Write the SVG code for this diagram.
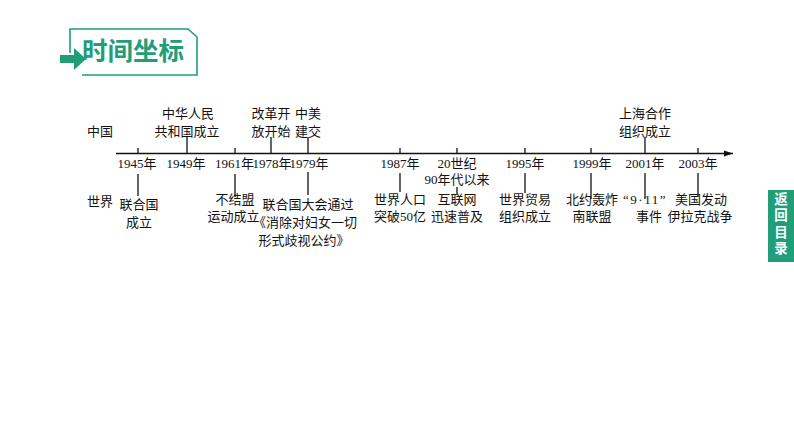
<svg xmlns="http://www.w3.org/2000/svg" width="794" height="447" viewBox="0 0 794 447">
<style>
.t{font-family:"Liberation Serif","Noto Sans CJK SC",serif;font-size:13px;fill:#111;text-anchor:middle}
.l{stroke:#111;stroke-width:1.3;fill:none}
.hd{font-family:"Noto Sans CJK SC",sans-serif;font-weight:bold;font-size:25.5px;fill:#1f9e78}
.sb{font-family:"Noto Sans CJK SC",sans-serif;font-weight:bold;font-size:13.5px;fill:#fff;writing-mode:vertical-rl;letter-spacing:3px}
</style>
<defs>
<marker id="ar" markerWidth="10" markerHeight="8" refX="9" refY="4" orient="auto" markerUnits="userSpaceOnUse">
<path d="M0,1 L9,4 L0,7 Z" fill="#111"/>
</marker>
</defs>
<rect width="794" height="447" fill="#fff"/>
<g id="header">
<path d="M70,53 V29 H188 L197,37 V75 H82" fill="none" stroke="#1f9e78" stroke-width="1.6"/>
<path d="M60,55 H74 V48 L86,59 L74,70 V63 H60 Z" fill="#1f9e78"/>
<text class="hd" x="82" y="60">时间坐标</text>
</g>
<g id="sidebar">
<rect x="768" y="190" width="26" height="72" fill="#1f9e78"/>
<text class="sb" x="781" y="192">返回目录</text>
</g>
<g id="connectors">
<line class="l" x1="116" y1="153.5" x2="733" y2="153.5" marker-end="url(#ar)"/>
<line class="l" x1="138" y1="148" x2="138" y2="153"/>
<line class="l" x1="138" y1="174" x2="138" y2="196"/>
<line class="l" x1="187" y1="137" x2="187" y2="153"/>
<line class="l" x1="235" y1="148" x2="235" y2="153"/>
<line class="l" x1="235" y1="174" x2="235" y2="197"/>
<line class="l" x1="271" y1="137" x2="271" y2="153"/>
<line class="l" x1="308" y1="137" x2="308" y2="153" stroke-width="1.8"/>
<line class="l" x1="308" y1="172" x2="308" y2="195" stroke-width="1.8"/>
<line class="l" x1="400" y1="148" x2="400" y2="153"/>
<line class="l" x1="400" y1="173" x2="400" y2="192"/>
<line class="l" x1="457" y1="148" x2="457" y2="153"/>
<line class="l" x1="457" y1="187" x2="457" y2="195"/>
<line class="l" x1="525" y1="148" x2="525" y2="153"/>
<line class="l" x1="525" y1="173" x2="525" y2="193"/>
<line class="l" x1="591" y1="148" x2="591" y2="153"/>
<line class="l" x1="591" y1="173" x2="591" y2="199"/>
<line class="l" x1="645" y1="137" x2="645" y2="153"/>
<line class="l" x1="645" y1="173" x2="645" y2="199"/>
<line class="l" x1="698" y1="148" x2="698" y2="153"/>
<line class="l" x1="698" y1="173" x2="698" y2="197"/>
</g>
<g id="labels-row">
<text class="t" x="100" y="136">中国</text>
<text class="t" x="100" y="206">世界</text>
</g>
<g id="y1945">
<text class="t" x="137" y="168">1945年</text>
<text class="t" x="139" y="209">联合国</text>
<text class="t" x="139" y="227">成立</text>
</g>
<g id="y1949">
<text class="t" x="186" y="168">1949年</text>
<text class="t" x="188" y="118">中华人民</text>
<text class="t" x="187" y="136">共和国成立</text>
</g>
<g id="y1961">
<text class="t" x="234.5" y="168">1961年</text>
<text class="t" x="235" y="204">不结盟</text>
<text class="t" x="233.5" y="221">运动成立</text>
</g>
<g id="y1978">
<text class="t" x="272" y="168">1978年</text>
<text class="t" x="271" y="118">改革开</text>
<text class="t" x="271" y="136">放开始</text>
</g>
<g id="y1979">
<text class="t" x="309" y="168">1979年</text>
<text class="t" x="308" y="118">中美</text>
<text class="t" x="308" y="136">建交</text>
<text class="t" x="308" y="209">联合国大会通过</text>
<text class="t" x="305" y="227">《消除对妇女一切</text>
<text class="t" x="304" y="245">形式歧视公约》</text>
</g>
<g id="y1987">
<text class="t" x="400" y="168">1987年</text>
<text class="t" x="400" y="204">世界人口</text>
<text class="t" x="400" y="221">突破50亿</text>
</g>
<g id="y1990s">
<text class="t" x="457" y="168">20世纪</text>
<text class="t" x="457" y="184">90年代以来</text>
<text class="t" x="457" y="204">互联网</text>
<text class="t" x="457" y="221">迅速普及</text>
</g>
<g id="y1995">
<text class="t" x="525" y="168">1995年</text>
<text class="t" x="525" y="204">世界贸易</text>
<text class="t" x="525" y="221">组织成立</text>
</g>
<g id="y1999">
<text class="t" x="592" y="168">1999年</text>
<text class="t" x="592" y="204">北约轰炸</text>
<text class="t" x="592" y="221">南联盟</text>
</g>
<g id="y2001">
<text class="t" x="645" y="168">2001年</text>
<text class="t" x="645" y="118">上海合作</text>
<text class="t" x="645" y="136">组织成立</text>
<text class="t" x="645" y="204" letter-spacing="1.5">“9·11”</text>
<text class="t" x="649" y="221">事件</text>
</g>
<g id="y2003">
<text class="t" x="698" y="168">2003年</text>
<text class="t" x="701" y="204">美国发动</text>
<text class="t" x="700" y="221">伊拉克战争</text>
</g>
</svg>
